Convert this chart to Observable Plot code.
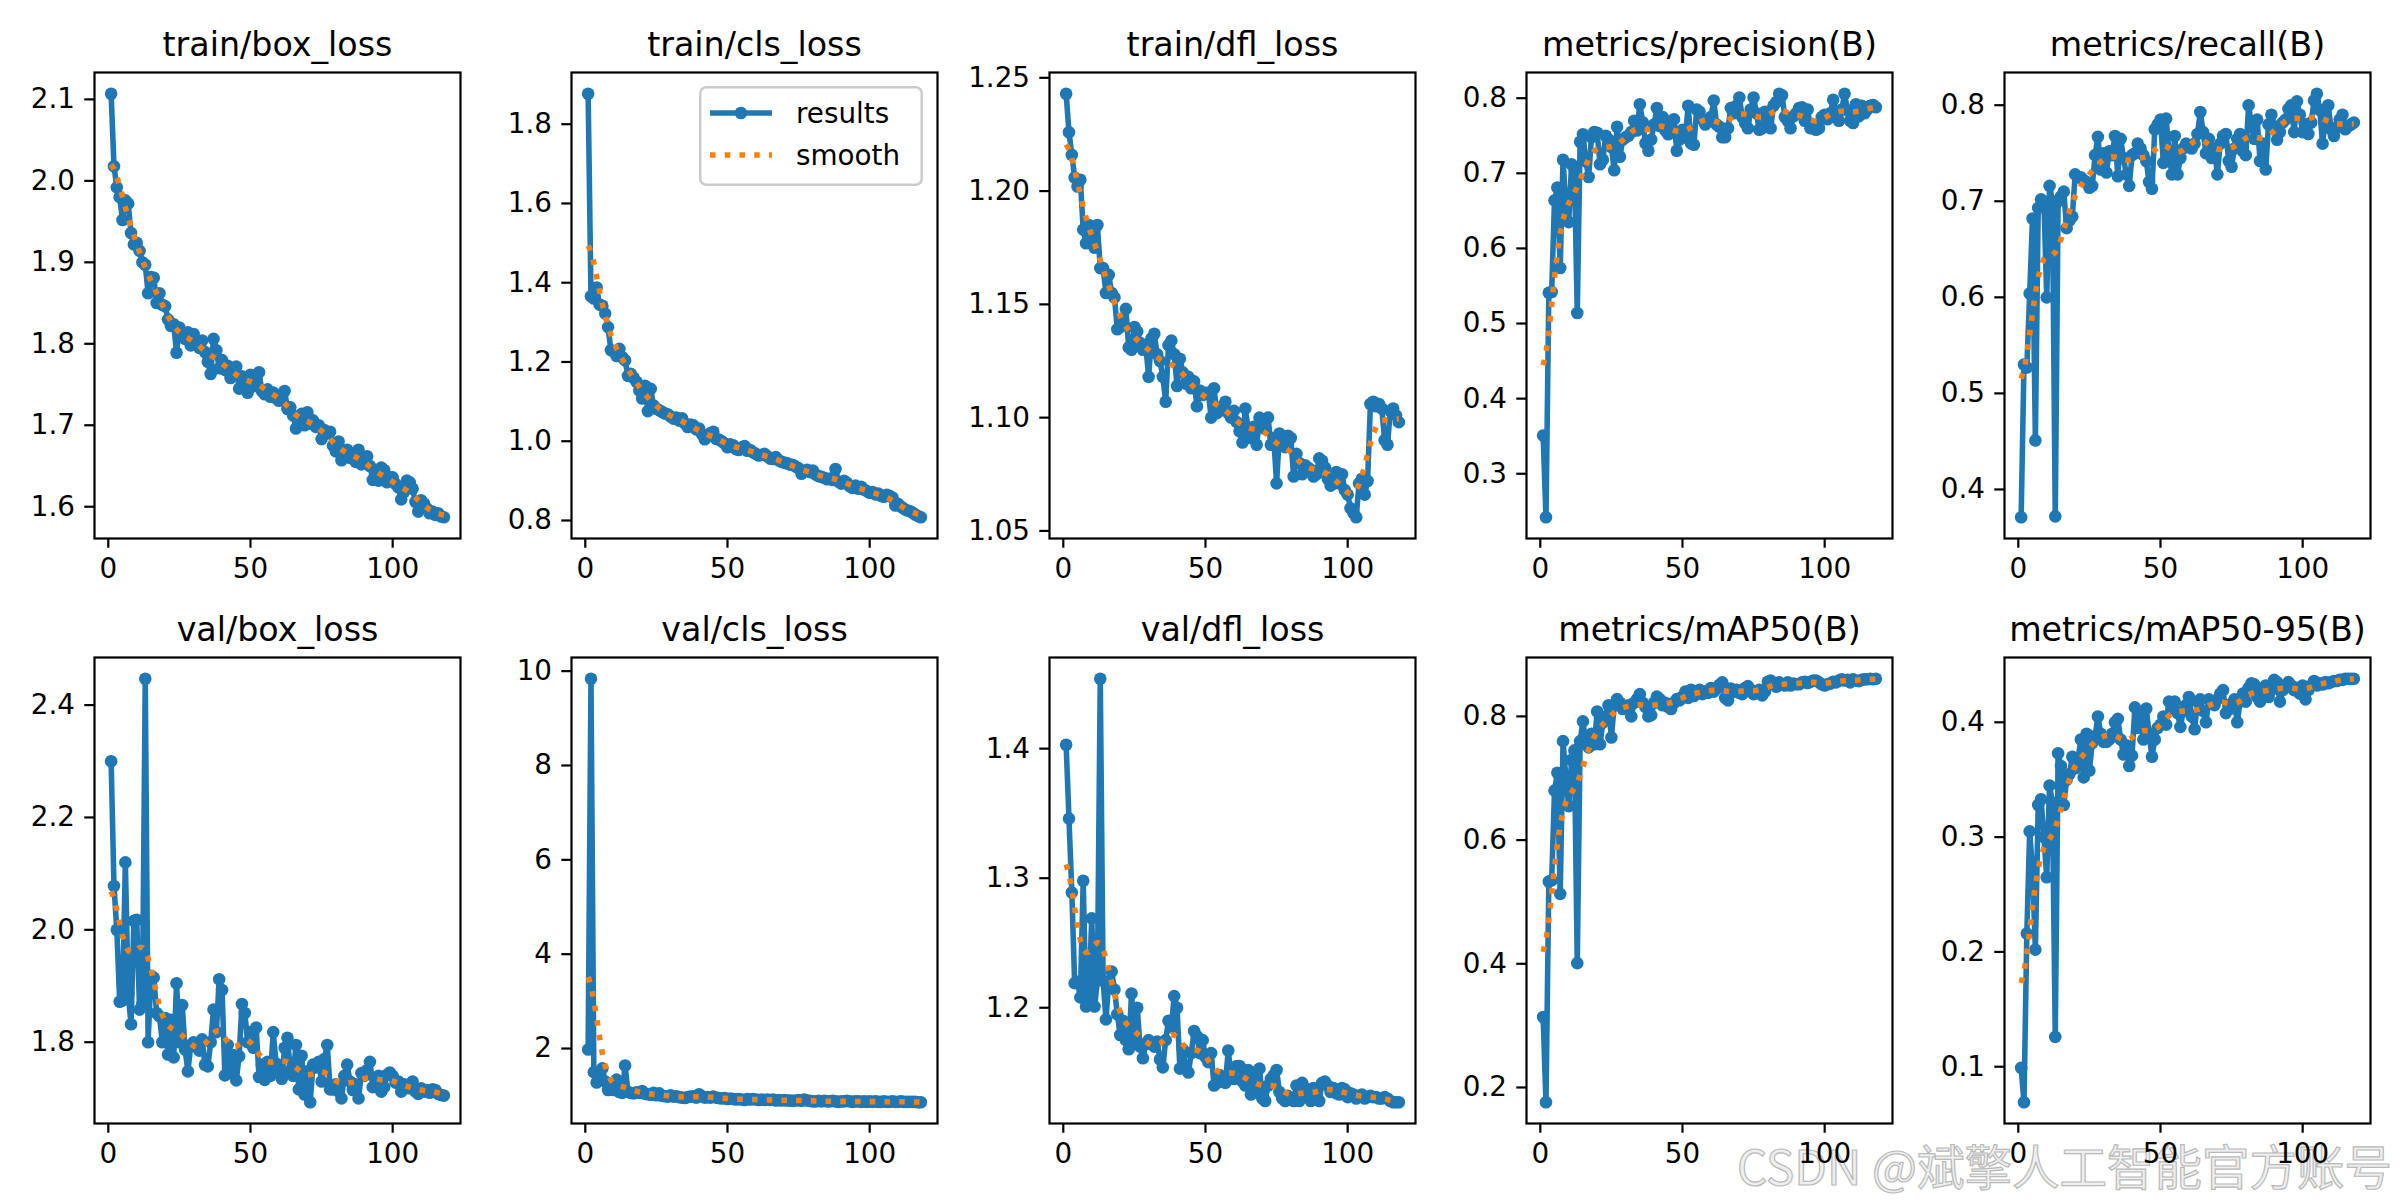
<!DOCTYPE html>
<html>
<head>
<meta charset="utf-8">
<script src="https://cdn.jsdelivr.net/npm/d3@7"></script>
<script src="https://cdn.jsdelivr.net/npm/@observablehq/plot@0.6"></script>
<style>
  html, body { margin: 0; padding: 0; background: #ffffff; }
  #fig { position: relative; width: 2400px; height: 1200px; background: #ffffff; overflow: hidden; }
  .panel { position: absolute; }
  .panel svg { max-width: none !important; background: transparent; }
  #wm { position: absolute; left: 1737px; top: 1141px; font-family: "Noto Sans CJK SC", sans-serif; font-size: 47.5px; line-height: 1; white-space: nowrap; color: rgba(238,238,238,0.95); -webkit-text-stroke: 1.2px #b9b9b9; letter-spacing: 0px; }
  #legend { position: absolute; }
</style>
</head>
<body>
<div id="fig"><div id="wm">CSDN @斌擎人工智能官方账号</div></div>
<script>
// ---------- data (epochs 1..118) ----------
const epochs = d3.range(1, 119);

const titles = ["train/box_loss", "train/cls_loss", "train/dfl_loss", "metrics/precision(B)", "metrics/recall(B)",
                "val/box_loss", "val/cls_loss", "val/dfl_loss", "metrics/mAP50(B)", "metrics/mAP50-95(B)"];

const trainBoxLoss = [
  2.107, 2.018, 1.992, 1.980, 1.952, 1.976, 1.972, 1.936, 1.922, 1.924,
  1.914, 1.900, 1.897, 1.862, 1.882, 1.881, 1.850, 1.862, 1.848, 1.846,
  1.830, 1.822, 1.824, 1.789, 1.820, 1.812, 1.806, 1.814, 1.798, 1.812,
  1.800, 1.795, 1.804, 1.790, 1.778, 1.763, 1.806, 1.792, 1.770, 1.780,
  1.768, 1.773, 1.758, 1.770, 1.772, 1.745, 1.760, 1.758, 1.740, 1.762,
  1.748, 1.757, 1.765, 1.742, 1.738, 1.744, 1.735, 1.740, 1.733, 1.730,
  1.737, 1.742, 1.720, 1.722, 1.712, 1.696, 1.704, 1.714, 1.700, 1.716,
  1.702, 1.706, 1.698, 1.700, 1.683, 1.694, 1.690, 1.692, 1.675, 1.668,
  1.680, 1.657, 1.668, 1.670, 1.660, 1.664, 1.655, 1.670, 1.652, 1.660,
  1.662, 1.650, 1.633, 1.640, 1.632, 1.648, 1.645, 1.630, 1.636, 1.636,
  1.628, 1.624, 1.609, 1.618, 1.632, 1.630, 1.622, 1.606, 1.594, 1.608,
  1.604, 1.598, 1.592, 1.594, 1.590, 1.592, 1.588, 1.587
];

const trainClsLoss = [
  1.877, 1.366, 1.360, 1.388, 1.345, 1.342, 1.322, 1.288, 1.230, 1.226,
  1.215, 1.233, 1.212, 1.204, 1.165, 1.170, 1.160, 1.150, 1.128, 1.108,
  1.140, 1.076, 1.132, 1.090, 1.082, 1.078, 1.074, 1.070, 1.068, 1.062,
  1.057, 1.060, 1.052, 1.058, 1.045, 1.036, 1.042, 1.040, 1.030, 1.032,
  1.018, 1.005, 1.012, 1.020, 1.024, 1.006, 1.004, 1.000, 0.994, 0.985,
  0.992, 0.990, 0.980, 0.978, 0.984, 0.988, 0.976, 0.978, 0.972, 0.968,
  0.964, 0.966, 0.968, 0.962, 0.956, 0.955, 0.960, 0.952, 0.948, 0.946,
  0.944, 0.941, 0.940, 0.936, 0.932, 0.918, 0.925, 0.928, 0.922, 0.926,
  0.916, 0.912, 0.910, 0.908, 0.904, 0.906, 0.902, 0.930, 0.898, 0.893,
  0.900, 0.895, 0.886, 0.882, 0.888, 0.880, 0.885, 0.878, 0.874, 0.870,
  0.872, 0.866, 0.868, 0.862, 0.860, 0.865, 0.862, 0.858, 0.838, 0.842,
  0.835, 0.830, 0.826, 0.824, 0.820, 0.815, 0.811, 0.808
];

const trainDflLoss = [
  1.243, 1.226, 1.216, 1.206, 1.202, 1.205, 1.183, 1.177, 1.185, 1.180,
  1.175, 1.185, 1.166, 1.166, 1.155, 1.163, 1.155, 1.153, 1.139, 1.140,
  1.142, 1.148, 1.131, 1.130, 1.140, 1.138, 1.133, 1.130, 1.132, 1.118,
  1.135, 1.137, 1.128, 1.125, 1.118, 1.107, 1.132, 1.134, 1.128, 1.114,
  1.126, 1.120, 1.115, 1.118, 1.113, 1.116, 1.105, 1.112, 1.110, 1.111,
  1.111, 1.100, 1.113, 1.102, 1.103, 1.105, 1.107, 1.102, 1.100, 1.103,
  1.098, 1.094, 1.089, 1.104, 1.095, 1.091, 1.096, 1.088, 1.100, 1.098,
  1.095, 1.100, 1.088, 1.091, 1.071, 1.093, 1.090, 1.087, 1.092, 1.091,
  1.074, 1.084, 1.080, 1.075, 1.079, 1.078, 1.077, 1.074, 1.075, 1.082,
  1.081, 1.078, 1.073, 1.070, 1.071, 1.076, 1.071, 1.075, 1.068, 1.066,
  1.060, 1.058, 1.056, 1.071, 1.073, 1.066, 1.072, 1.106, 1.107, 1.105,
  1.106, 1.104, 1.090, 1.088, 1.103, 1.104, 1.101, 1.098
];

const precisionB = [
  0.351, 0.242, 0.541, 0.542, 0.664, 0.681, 0.574, 0.718, 0.655, 0.635,
  0.712, 0.706, 0.514, 0.742, 0.752, 0.716, 0.695, 0.748, 0.755, 0.754,
  0.712, 0.718, 0.750, 0.745, 0.735, 0.704, 0.762, 0.722, 0.745, 0.748,
  0.750, 0.755, 0.770, 0.757, 0.792, 0.768, 0.740, 0.730, 0.745, 0.765,
  0.787, 0.763, 0.775, 0.757, 0.752, 0.768, 0.772, 0.730, 0.745, 0.758,
  0.748, 0.790, 0.740, 0.738, 0.785, 0.782, 0.772, 0.765, 0.770, 0.775,
  0.797, 0.765, 0.762, 0.748, 0.748, 0.760, 0.787, 0.780, 0.790, 0.801,
  0.775, 0.767, 0.760, 0.785, 0.801, 0.780, 0.758, 0.760, 0.782, 0.770,
  0.760, 0.790, 0.795, 0.806, 0.804, 0.775, 0.770, 0.760, 0.776, 0.780,
  0.787, 0.788, 0.770, 0.785, 0.760, 0.764, 0.758, 0.760, 0.775, 0.778,
  0.772, 0.780, 0.798, 0.776, 0.770, 0.785, 0.806, 0.784, 0.770, 0.767,
  0.792, 0.776, 0.790, 0.780, 0.785, 0.790, 0.791, 0.788
];

const recallB = [
  0.371, 0.530, 0.527, 0.604, 0.682, 0.451, 0.693, 0.702, 0.700, 0.600,
  0.716, 0.700, 0.372, 0.700, 0.705, 0.710, 0.672, 0.680, 0.684, 0.728,
  0.725, 0.725, 0.722, 0.720, 0.714, 0.716, 0.748, 0.767, 0.733, 0.750,
  0.730, 0.752, 0.748, 0.768, 0.726, 0.765, 0.745, 0.728, 0.716, 0.748,
  0.750, 0.760, 0.755, 0.748, 0.742, 0.720, 0.713, 0.775, 0.780, 0.785,
  0.740, 0.786, 0.750, 0.728, 0.768, 0.728, 0.745, 0.755, 0.760, 0.757,
  0.755, 0.760, 0.770, 0.793, 0.772, 0.750, 0.765, 0.745, 0.755, 0.728,
  0.760, 0.768, 0.770, 0.742, 0.736, 0.755, 0.765, 0.770, 0.752, 0.748,
  0.800, 0.778, 0.765, 0.785, 0.742, 0.760, 0.733, 0.780, 0.790, 0.778,
  0.764, 0.772, 0.782, 0.785, 0.796, 0.800, 0.772, 0.804, 0.790, 0.772,
  0.780, 0.770, 0.782, 0.805, 0.812, 0.795, 0.760, 0.785, 0.800, 0.775,
  0.768, 0.777, 0.785, 0.790, 0.775, 0.778, 0.780, 0.782
];

const valBoxLoss = [
  2.300, 2.078, 2.000, 1.872, 1.874, 2.120, 1.886, 1.832, 2.016, 2.018,
  1.858, 1.868, 2.447, 1.800, 1.918, 1.915, 1.852, 1.846, 1.800, 1.843,
  1.778, 1.840, 1.773, 1.905, 1.800, 1.866, 1.787, 1.748, 1.795, 1.800,
  1.792, 1.785, 1.805, 1.760, 1.757, 1.800, 1.858, 1.818, 1.912, 1.893,
  1.741, 1.795, 1.745, 1.777, 1.732, 1.775, 1.868, 1.852, 1.800, 1.818,
  1.790, 1.826, 1.738, 1.760, 1.733, 1.765, 1.740, 1.818, 1.762, 1.750,
  1.735, 1.790, 1.808, 1.750, 1.740, 1.795, 1.716, 1.776, 1.707, 1.748,
  1.693, 1.760, 1.755, 1.765, 1.730, 1.770, 1.795, 1.716, 1.716, 1.725,
  1.712, 1.700, 1.740, 1.760, 1.730, 1.715, 1.725, 1.700, 1.745, 1.740,
  1.750, 1.765, 1.720, 1.735, 1.740, 1.712, 1.720, 1.742, 1.746, 1.740,
  1.728, 1.730, 1.712, 1.725, 1.720, 1.718, 1.730, 1.712, 1.708, 1.718,
  1.712, 1.715, 1.710, 1.716, 1.715, 1.708, 1.706, 1.705
];

const valClsLoss = [
  1.98, 9.84, 1.50, 1.28, 1.42, 1.58, 1.30, 1.12, 1.18, 1.12,
  1.34, 1.08, 1.06, 1.64, 1.08, 1.06, 1.05, 1.07, 1.06, 1.10,
  1.04, 1.03, 1.02, 1.06, 1.01, 1.05, 1.00, 0.99, 0.98, 1.01,
  0.98, 0.99, 0.97, 0.96, 0.95, 0.97, 0.98, 0.99, 0.96, 1.03,
  0.99, 0.96, 0.97, 0.96, 0.98, 0.96, 0.95, 0.94, 0.95, 0.93,
  0.94, 0.93, 0.92, 0.93, 0.92, 0.91, 0.93, 0.92, 0.93, 0.92,
  0.91, 0.92, 0.91, 0.92, 0.91, 0.92, 0.90, 0.91, 0.90, 0.91,
  0.90, 0.90, 0.89, 0.90, 0.91, 0.89, 0.92, 0.90, 0.89, 0.88,
  0.88, 0.89, 0.88, 0.89, 0.88, 0.88, 0.89, 0.88, 0.87, 0.88,
  0.88, 0.89, 0.88, 0.87, 0.88, 0.88, 0.87, 0.88, 0.87, 0.88,
  0.87, 0.88, 0.87, 0.87, 0.88, 0.87, 0.87, 0.88, 0.87, 0.87,
  0.88, 0.87, 0.87, 0.87, 0.87, 0.87, 0.86, 0.86
];

const valDflLoss = [
  1.403, 1.346, 1.289, 1.219, 1.220, 1.208, 1.298, 1.201, 1.207, 1.269,
  1.201, 1.221, 1.454, 1.221, 1.191, 1.220, 1.228, 1.214, 1.195, 1.179,
  1.190, 1.175, 1.168, 1.211, 1.175, 1.200, 1.170, 1.161, 1.172, 1.175,
  1.172, 1.170, 1.174, 1.160, 1.154, 1.175, 1.190, 1.185, 1.209, 1.200,
  1.153, 1.168, 1.155, 1.150, 1.165, 1.182, 1.178, 1.165, 1.175, 1.162,
  1.158, 1.165, 1.140, 1.142, 1.148, 1.145, 1.142, 1.167, 1.148, 1.145,
  1.155, 1.155, 1.143, 1.140, 1.152, 1.133, 1.150, 1.135, 1.153, 1.130,
  1.128, 1.140, 1.145, 1.148, 1.152, 1.135, 1.130, 1.128, 1.132, 1.130,
  1.128, 1.140, 1.128, 1.142, 1.138, 1.132, 1.128, 1.138, 1.133, 1.128,
  1.142, 1.143, 1.140, 1.135, 1.138, 1.134, 1.133, 1.138, 1.137, 1.131,
  1.134, 1.133, 1.130, 1.132, 1.133, 1.130, 1.131, 1.132, 1.131, 1.131,
  1.130, 1.130, 1.131, 1.130, 1.128, 1.127, 1.127, 1.127
];

const mAP50B = [
  0.314, 0.176, 0.533, 0.535, 0.680, 0.709, 0.513, 0.760, 0.700, 0.655,
  0.730, 0.745, 0.401, 0.760, 0.792, 0.755, 0.750, 0.772, 0.755, 0.808,
  0.755, 0.790, 0.800, 0.818, 0.766, 0.818, 0.828, 0.822, 0.812, 0.815,
  0.818, 0.800, 0.822, 0.828, 0.836, 0.822, 0.815, 0.800, 0.802, 0.822,
  0.832, 0.828, 0.818, 0.822, 0.815, 0.812, 0.822, 0.828, 0.826, 0.832,
  0.840, 0.830, 0.843, 0.833, 0.838, 0.843, 0.836, 0.840, 0.838, 0.846,
  0.840, 0.845, 0.851, 0.855, 0.830, 0.826, 0.845, 0.840, 0.843, 0.838,
  0.836, 0.846, 0.849, 0.843, 0.836, 0.838, 0.843, 0.834, 0.840, 0.856,
  0.858, 0.852, 0.848, 0.855, 0.852, 0.850, 0.855, 0.850, 0.853, 0.852,
  0.852, 0.855, 0.856, 0.854, 0.856, 0.858, 0.858, 0.855, 0.852, 0.850,
  0.852, 0.853, 0.856, 0.855, 0.858, 0.860, 0.858, 0.859, 0.855, 0.860,
  0.858, 0.857, 0.859, 0.860, 0.860, 0.861, 0.860, 0.861
];

const mAP5095B = [
  0.099, 0.069, 0.216, 0.305, 0.272, 0.202, 0.328, 0.333, 0.300, 0.265,
  0.345, 0.330, 0.126, 0.373, 0.362, 0.328, 0.350, 0.355, 0.370, 0.360,
  0.368, 0.385, 0.352, 0.390, 0.358, 0.382, 0.388, 0.405, 0.390, 0.383,
  0.383, 0.385, 0.390, 0.400, 0.403, 0.385, 0.372, 0.380, 0.362, 0.371,
  0.413, 0.395, 0.405, 0.385, 0.412, 0.390, 0.370, 0.385, 0.395, 0.398,
  0.405, 0.398, 0.418, 0.412, 0.418, 0.408, 0.396, 0.410, 0.415, 0.422,
  0.405, 0.394, 0.418, 0.420, 0.410, 0.400, 0.420, 0.418, 0.415, 0.420,
  0.425, 0.428, 0.408, 0.415, 0.412, 0.420, 0.400, 0.418, 0.425, 0.418,
  0.430, 0.434, 0.433, 0.422, 0.418, 0.428, 0.432, 0.422, 0.428, 0.437,
  0.435, 0.418, 0.428, 0.432, 0.435, 0.432, 0.428, 0.430, 0.425, 0.432,
  0.420, 0.428, 0.432, 0.436, 0.432, 0.434, 0.433, 0.435, 0.434, 0.435,
  0.436, 0.436, 0.437, 0.437, 0.438, 0.438, 0.438, 0.438
];

// tick values and their labels
const xTicks = [0, 50, 100];
const yTicksTrainBox = [1.6, 1.7, 1.8, 1.9, 2.0, 2.1];
const yLabelsTrainBox = ["1.6", "1.7", "1.8", "1.9", "2.0", "2.1"];
const yTicksTrainCls = [0.8, 1.0, 1.2, 1.4, 1.6, 1.8];
const yLabelsTrainCls = ["0.8", "1.0", "1.2", "1.4", "1.6", "1.8"];
const yTicksTrainDfl = [1.05, 1.10, 1.15, 1.20, 1.25];
const yLabelsTrainDfl = ["1.05", "1.10", "1.15", "1.20", "1.25"];
const yTicksPrecision = [0.3, 0.4, 0.5, 0.6, 0.7, 0.8];
const yLabelsPrecision = ["0.3", "0.4", "0.5", "0.6", "0.7", "0.8"];
const yTicksRecall = [0.4, 0.5, 0.6, 0.7, 0.8];
const yLabelsRecall = ["0.4", "0.5", "0.6", "0.7", "0.8"];
const yTicksValBox = [1.8, 2.0, 2.2, 2.4];
const yLabelsValBox = ["1.8", "2.0", "2.2", "2.4"];
const yTicksValCls = [2, 4, 6, 8, 10];
const yLabelsValCls = ["2", "4", "6", "8", "10"];
const yTicksValDfl = [1.2, 1.3, 1.4];
const yLabelsValDfl = ["1.2", "1.3", "1.4"];
const yTicksMap50 = [0.2, 0.4, 0.6, 0.8];
const yLabelsMap50 = ["0.2", "0.4", "0.6", "0.8"];
const yTicksMap5095 = [0.1, 0.2, 0.3, 0.4];
const yLabelsMap5095 = ["0.1", "0.2", "0.3", "0.4"];

const legendLabels = ["results", "smooth"];
const watermark = "CSDN @斌擎人工智能官方账号";

// ---------- assembly ----------
const panels = [
  [trainBoxLoss, yTicksTrainBox, yLabelsTrainBox],
  [trainClsLoss, yTicksTrainCls, yLabelsTrainCls],
  [trainDflLoss, yTicksTrainDfl, yLabelsTrainDfl],
  [precisionB, yTicksPrecision, yLabelsPrecision],
  [recallB, yTicksRecall, yLabelsRecall],
  [valBoxLoss, yTicksValBox, yLabelsValBox],
  [valClsLoss, yTicksValCls, yLabelsValCls],
  [valDflLoss, yTicksValDfl, yLabelsValDfl],
  [mAP50B, yTicksMap50, yLabelsMap50],
  [mAP5095B, yTicksMap5095, yLabelsMap5095]
];

// gaussian_filter1d(y, sigma=3), mode "reflect", truncate 4
function gaussianSmooth(y, sigma) {
  const radius = Math.floor(4 * sigma + 0.5);
  let w = d3.range(-radius, radius + 1).map(k => Math.exp(-0.5 * k * k / (sigma * sigma)));
  const s = d3.sum(w);
  w = w.map(v => v / s);
  const n = y.length;
  const refl = i => { while (i < 0 || i >= n) { if (i < 0) i = -i - 1; if (i >= n) i = 2 * n - i - 1; } return i; };
  return y.map((_, i) => d3.sum(w, (wk, j) => wk * y[refl(i + j - radius)]));
}

const BLUE = "#1f77b4", ORANGE = "#ff7f0e";
const FS = 27.8, TFS = 33.3, LW = 5.56, TICK = 9.72;
const colLefts = [94, 571, 1049, 1526, 2004];
const rowTops = [72, 657];
const axW = 366, axH = 466;
const ml = 90, mr = 24, mt = 60, mb = 62;

const fig = document.getElementById("fig");
const xExt = d3.extent(epochs);
const xPad = 0.05 * (xExt[1] - xExt[0]);

panels.forEach(([vals, yt, yl], i) => {
  const col = i % 5, row = Math.floor(i / 5);
  const results = epochs.map((e, k) => ({epoch: e, value: vals[k]}));
  const sm = gaussianSmooth(vals, 3);
  const smooth = epochs.map((e, k) => ({epoch: e, value: sm[k]}));
  const ext = d3.extent(vals.concat(sm));
  const pad = 0.05 * (ext[1] - ext[0]);
  const labelOf = d => yl[yt.findIndex(t => Math.abs(t - d) < 1e-9)];
  const chart = Plot.plot({
    width: axW + ml + mr,
    height: axH + mt + mb,
    marginLeft: ml, marginRight: mr, marginTop: mt, marginBottom: mb,
    style: {fontFamily: "'DejaVu Sans', sans-serif", fontSize: FS + "px", background: "transparent", overflow: "visible", color: "black"},
    x: {domain: [xExt[0] - xPad, xExt[1] + xPad]},
    y: {domain: [ext[0] - pad, ext[1] + pad]},
    marks: [
      Plot.line(results, {x: "epoch", y: "value", stroke: BLUE, strokeWidth: LW, strokeLinejoin: "round", strokeLinecap: "butt"}),
      Plot.dot(results, {x: "epoch", y: "value", r: 6.3, fill: BLUE, stroke: "none"}),
      Plot.line(smooth, {x: "epoch", y: "value", stroke: ORANGE, strokeWidth: LW, strokeDasharray: "5.56 9.17", strokeLinecap: "butt"}),
      Plot.frame({stroke: "black", strokeWidth: 2.2}),
      Plot.axisX({ticks: xTicks, tickFormat: d => String(d), tickSize: TICK, tickPadding: TICK, strokeWidth: 2.2, label: null}),
      Plot.axisY({ticks: yt, tickFormat: labelOf, tickSize: TICK, tickPadding: TICK, strokeWidth: 2.2, label: null}),
      Plot.text([titles[i]], {text: d => d, frameAnchor: "top", dy: -16.7, lineAnchor: "bottom", fontSize: TFS})
    ]
  });
  const holder = document.createElement("div");
  holder.className = "panel";
  holder.style.left = (colLefts[col] - ml) + "px";
  holder.style.top = (rowTops[row] - mt) + "px";
  holder.appendChild(chart);
  fig.appendChild(holder);
});

// legend for train/cls_loss (upper right)
(function () {
  const W = 224, H = 100;
  const lg = d3.create("svg").attr("width", W).attr("height", H)
    .style("font-family", "'DejaVu Sans', sans-serif").style("font-size", FS + "px");
  lg.append("rect").attr("x", 1.25).attr("y", 1.25).attr("width", W - 2.5).attr("height", H - 2.5)
    .attr("rx", 6).attr("fill", "white").attr("fill-opacity", 0.8).attr("stroke", "#cccccc").attr("stroke-width", 2.5);
  const rows = [27, 69];
  lg.append("line").attr("x1", 11).attr("x2", 73).attr("y1", rows[0]).attr("y2", rows[0])
    .attr("stroke", BLUE).attr("stroke-width", LW);
  lg.append("circle").attr("cx", 42).attr("cy", rows[0]).attr("r", 6.3).attr("fill", BLUE);
  lg.append("line").attr("x1", 11).attr("x2", 73).attr("y1", rows[1]).attr("y2", rows[1])
    .attr("stroke", ORANGE).attr("stroke-width", LW).attr("stroke-dasharray", "5.56 9.17");
  legendLabels.forEach((t, k) => {
    lg.append("text").attr("x", 97).attr("y", rows[k]).attr("dy", "0.35em").attr("fill", "black").text(t);
  });
  const div = document.createElement("div");
  div.id = "legend";
  div.style.left = (colLefts[1] + axW - 14 - W) + "px";
  div.style.top = (rowTops[0] + 14) + "px";
  div.appendChild(lg.node());
  fig.appendChild(div);
})();

document.getElementById("wm").textContent = watermark;
</script>
</body>
</html>
